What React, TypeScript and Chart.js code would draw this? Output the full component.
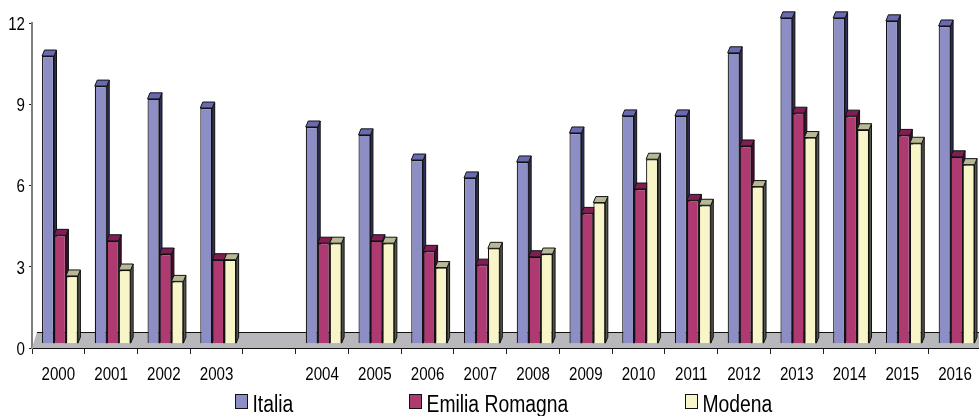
import React, { useEffect, useRef } from "react";
import { Chart, registerables } from "chart.js";

Chart.register(...registerables);

const years = ["2000", "2001", "2002", "2003", "", "2004", "2005", "2006", "2007", "2008", "2009", "2010", "2011", "2012", "2013", "2014", "2015", "2016"];
const italia = [10.78, 9.67, 9.2, 8.86, null, 8.16, 7.87, 6.94, 6.28, 6.87, 7.94, 8.57, 8.57, 10.9, 12.19, 12.19, 12.08, 11.89];
const emilia = [4.16, 3.96, 3.47, 3.26, null, 3.87, 3.96, 3.57, 3.06, 3.37, 4.97, 5.87, 5.45, 7.46, 8.67, 8.56, 7.85, 7.06];
const modena = [2.66, 2.88, 2.46, 3.26, null, 3.87, 3.87, 2.97, 3.68, 3.47, 5.37, 6.97, 5.27, 5.96, 7.77, 8.06, 7.56, 6.77];
const yTicks = [0, 3, 6, 9, 12];

const faces = [
  { front: "#8E8EC6", top: "#6A6AB2", side: "#2F2F5C" },
  { front: "#AF3A71", top: "#7E1E52", side: "#4A0A30" },
  { front: "#F8F6C8", top: "#B8B994", side: "#55564A" },
];
const legendPos = [235, 409, 685];
const FONT = '"Liberation Sans", Arial, sans-serif';
const CONDENSE = 0.84;
const DX = 2.5;
const DY = 6;

// The reference's labels are a condensed Arial: squeeze each glyph run about its anchor.
function condensedText(ctx: any, draw: () => void) {
  const orig = ctx.fillText;
  ctx.fillText = function (text: string, x: number, y: number) {
    ctx.save();
    ctx.translate(x, y);
    ctx.scale(CONDENSE, 1);
    orig.call(ctx, text, 0, 0);
    ctx.restore();
  };
  try {
    draw();
  } finally {
    delete ctx.fillText;
  }
}

const bars3d = {
  id: "bars3d",
  afterDatasetsUpdate(chart: any) {
    chart.data.datasets.forEach((_: any, i: number) => {
      chart.getDatasetMeta(i).data.forEach((el: any) => {
        el.x += 1.6;
      });
    });
    [chart.scales.x, chart.scales.y].forEach((scale: any) => {
      if (scale._condensed) return;
      scale._condensed = true;
      const drawLabels = scale.drawLabels.bind(scale);
      scale.drawLabels = (area: any) => condensedText(chart.ctx, () => drawLabels(area));
    });
  },
  beforeDatasetsDraw(chart: any) {
    const { ctx, chartArea } = chart;
    const { left, right, bottom } = chartArea;
    ctx.save();
    // floor
    ctx.fillStyle = "#B8B8BC";
    ctx.beginPath();
    ctx.moveTo(left, bottom);
    ctx.lineTo(left + 5, bottom - 16);
    ctx.lineTo(right, bottom - 16);
    ctx.lineTo(right, bottom);
    ctx.closePath();
    ctx.fill();
    ctx.strokeStyle = "#111";
    ctx.lineWidth = 1;
    ctx.beginPath();
    ctx.moveTo(left + 5, bottom - 15.5);
    ctx.lineTo(right, bottom - 15.5);
    ctx.stroke();
    // side and top faces
    ctx.lineWidth = 1;
    ctx.lineJoin = "round";
    chart.data.datasets.forEach((_: any, i: number) => {
      chart.getDatasetMeta(i).data.forEach((el: any, idx: number) => {
        if (chart.data.datasets[i].data[idx] == null) return;
        const l = el.x - el.width / 2;
        const r = el.x + el.width / 2;
        const t = el.y;
        const b = el.base;
        ctx.fillStyle = faces[i].side;
        ctx.beginPath();
        ctx.moveTo(r, t);
        ctx.lineTo(r + DX, t - DY);
        ctx.lineTo(r + DX, b - DY);
        ctx.lineTo(r, b);
        ctx.closePath();
        ctx.fill();
        ctx.stroke();
        ctx.fillStyle = faces[i].top;
        ctx.beginPath();
        ctx.moveTo(l, t);
        ctx.lineTo(l + DX, t - DY);
        ctx.lineTo(r + DX, t - DY);
        ctx.lineTo(r, t);
        ctx.closePath();
        ctx.fill();
        ctx.stroke();
      });
    });
    ctx.restore();
  },
  afterDraw(chart: any) {
    const { ctx } = chart;
    ctx.save();
    ctx.font = `23px ${FONT}`;
    ctx.textBaseline = "alphabetic";
    ctx.textAlign = "left";
    chart.data.datasets.forEach((ds: any, i: number) => {
      const x = legendPos[i];
      ctx.fillStyle = faces[i].front;
      ctx.strokeStyle = "#111";
      ctx.lineWidth = 1;
      ctx.fillRect(x + 0.5, 394.5, 12, 14);
      ctx.strokeRect(x + 0.5, 394.5, 12, 14);
      ctx.fillStyle = "#000";
      condensedText(ctx, () => ctx.fillText(ds.label, x + 17.5, 412));
    });
    ctx.restore();
  },
};

export default function App() {
  const ref = useRef<HTMLCanvasElement>(null);
  useEffect(() => {
    const mk = (label: string, data: any[], i: number) => ({
      label,
      data,
      base: 0.18,
      backgroundColor: faces[i].front,
      borderColor: "#111",
      borderWidth: 1.2,
      clip: false as any,
      categoryPercentage: 0.68,
      barPercentage: 1,
    });
    const chart = new Chart(ref.current!, {
      type: "bar",
      data: {
        labels: years,
        datasets: [mk("Italia", italia, 0), mk("Emilia Romagna", emilia, 1), mk("Modena", modena, 2)],
      },
      options: {
        animation: false,
        responsive: false,
        layout: { padding: { top: 23, left: 0, right: 0, bottom: 0 } },
        plugins: { legend: { display: false }, tooltip: { enabled: false } },
        scales: {
          x: {
            grid: { offset: true, drawOnChartArea: false, color: "#222", tickLength: 6, lineWidth: 1 },
            border: { color: "#111", width: 2 },
            ticks: { font: { family: FONT, size: 18 }, color: "#000", padding: 10, autoSkip: false, maxRotation: 0 },
            afterFit: (s: any) => { s.height = 68; },
          },
          y: {
            min: 0,
            max: 12,
            afterBuildTicks: (s: any) => { s.ticks = yTicks.map((value) => ({ value })); },
            grid: { drawOnChartArea: false, color: "#222", tickLength: 3, lineWidth: 1 },
            border: { color: "#808080", width: 2 },
            ticks: { font: { family: FONT, size: 18 }, color: "#000", padding: 4, labelOffset: 2 },
            afterFit: (s: any) => { s.width = 32; },
          },
        },
      },
      plugins: [bars3d],
    });
    return () => chart.destroy();
  }, []);
  return (
    <div style={{ position: "fixed", left: 0, top: 0, width: 979, height: 416, overflow: "hidden", background: "#fff" }}>
      <canvas ref={ref} width={985} height={416} style={{ display: "block" }} />
    </div>
  );
}
